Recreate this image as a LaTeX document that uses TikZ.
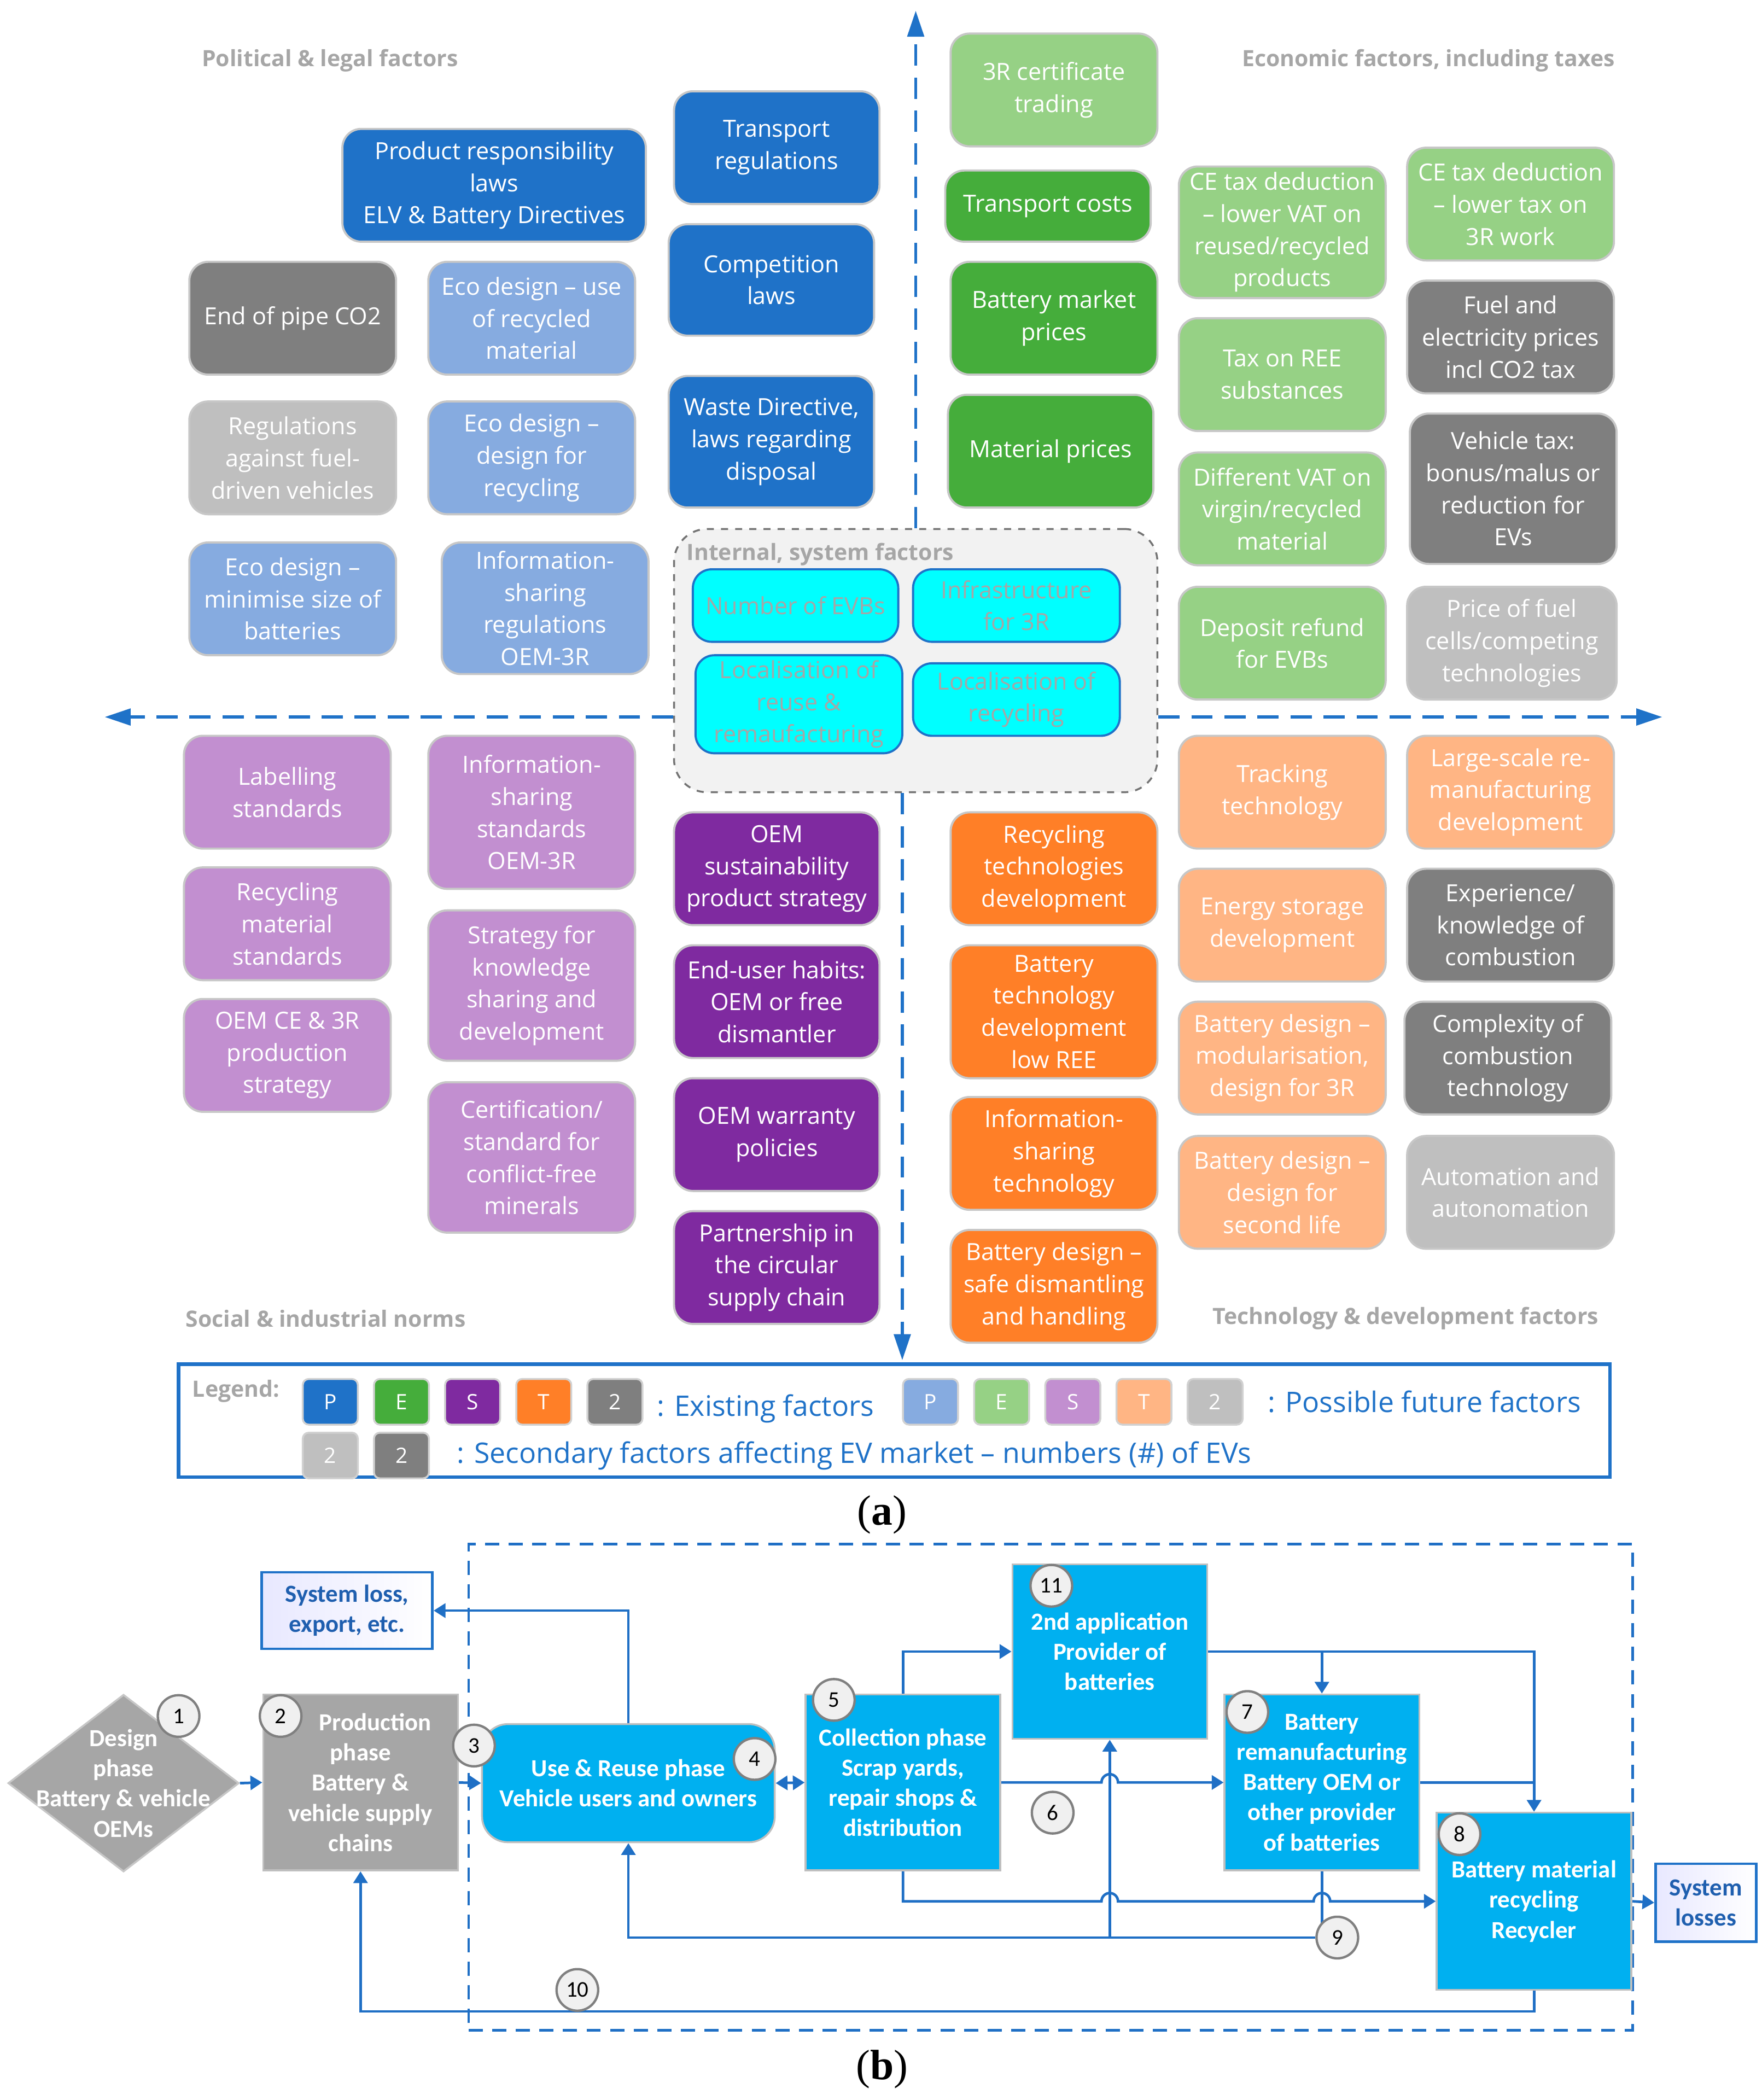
\documentclass[tikz,border=0pt]{standalone}
\usepackage{fontspec}
\setmainfont{Open Sans}
\newfontfamily\carl{Carlito}
\newfontfamily\serf{Liberation Serif}
\usetikzlibrary{shapes.geometric,arrows.meta,calc}
\pgfdeclarelayer{bg}\pgfsetlayers{bg,main}
\definecolor{cP}{HTML}{1F72C8}
\definecolor{cE}{HTML}{45AD3B}
\definecolor{cS}{HTML}{7F2AA0}
\definecolor{cT}{HTML}{FF7F27}
\definecolor{cG}{HTML}{7F7F7F}
\definecolor{cPf}{HTML}{86ABE0}
\definecolor{cEf}{HTML}{96D185}
\definecolor{cSf}{HTML}{C28FD0}
\definecolor{cTf}{HTML}{FFB584}
\definecolor{cGf}{HTML}{BFBFBF}
\definecolor{cCy}{HTML}{00FFFF}
\definecolor{cLb}{HTML}{00B0F0}
\definecolor{cDg}{HTML}{A6A6A6}
\definecolor{cB}{HTML}{1F6FC5}
\definecolor{gtext}{HTML}{A6A6A6}
\definecolor{cBt}{HTML}{1F5FAF}
\newcommand\bfnt{\fontsize{10}{13.6}\selectfont}
\newcommand\lfnt{\bfseries\fontsize{9.5}{11}\selectfont}
\newcommand\cfnt{\carl\bfseries\fontsize{10.4}{12.8}\selectfont}
% #1 style, #2 name, #3 x1, #4 y1, #5 x2, #6 y2, #7 text
\newcommand\qbox[7]{\node[#1, minimum width={(#5-#3)*0.02cm}, minimum height={(#6-#4)*0.02cm}] (#2) at ({(#3+#5)/2},{(#4+#6)/2}) {#7};}
\tikzset{
  bx/.style={rectangle, rounded corners=8pt, draw=black!22, line width=0.9pt, inner sep=1pt, align=center, text=white, font=\bfnt},
  bP/.style={bx, fill=cP}, bE/.style={bx, fill=cE}, bS/.style={bx, fill=cS}, bT/.style={bx, fill=cT}, bG/.style={bx, fill=cG},
  bPf/.style={bx, fill=cPf}, bEf/.style={bx, fill=cEf}, bSf/.style={bx, fill=cSf}, bTf/.style={bx, fill=cTf}, bGf/.style={bx, fill=cGf},
  bI/.style={bx, draw=cP, fill=cCy, text=gtext},
  qlab/.style={text=gtext, font=\lfnt, inner sep=0pt},
  axis/.style={draw=cP, line width=1.3pt, dash pattern=on 9pt off 5pt, -{Triangle[length=11pt,width=7pt]}},
  lg/.style={rectangle, rounded corners=2.5pt, draw=black!18, line width=0.8pt, minimum width=0.82cm, minimum height=0.68cm, inner sep=0pt, text=white, font=\fontsize{9}{10}\selectfont},
  ltx/.style={text=cP, font=\fontsize{12}{14}\selectfont, anchor=west, inner sep=0pt},
  fb/.style={rectangle, draw=black!25, line width=0.8pt, inner sep=1pt, align=center, text=white, font=\cfnt},
  fbG/.style={fb, fill=cDg}, fbB/.style={fb, fill=cLb},
  num/.style={circle, fill=black!6, draw=black!50, line width=1pt, minimum size=0.62cm, inner sep=0pt, font=\carl\fontsize{9.5}{10}\selectfont},
  sysb/.style={rectangle, draw=cP, line width=1.1pt, left color=blue!9, right color=white, align=center, text=cBt, font=\cfnt, inner sep=1pt},
  arr/.style={draw=cB, line width=1.1pt, -{Triangle[length=5pt,width=6pt]}},
  ln/.style={draw=cB, line width=1.1pt},
}
\begin{document}
\begin{tikzpicture}[x=0.02cm,y=-0.02cm]
\useasboundingbox (0,0) rectangle (1312,1564);
% ---------- (a) ----------
\node[rectangle, rounded corners=14pt, draw=black!55, dashed, line width=0.8pt, fill=black!5, minimum width={360*0.02cm}, minimum height={196*0.02cm}] (internal) at (682,492) {};
\node[qlab, anchor=west] (intl) at (511,413) {Internal, system factors};
\qbox{bI}{nevb}{516}{424}{669}{478}{Number of EVBs}
\qbox{bI}{infr}{680}{424}{834}{478}{Infrastructure\\for 3R}
\qbox{bI}{locr}{518}{488}{672}{561}{Localisation of\\reuse \&\\remaufacturing}
\qbox{bI}{locy}{680}{494}{834}{548}{Localisation of\\recycling}
% axes
\coordinate (axT) at (682,8);
\coordinate (axB) at (672,1013);
\coordinate (axL) at (78,534);
\coordinate (axR) at (1238,534);
\draw[axis] (internal.north) -- (axT);
\draw[axis] (internal.south -| axB) -- (axB);
\draw[axis] (internal.west |- axL) -- (axL);
\draw[axis] (internal.east |- axR) -- (axR);
% quadrant labels
\node[qlab, anchor=west] (qpol) at (150,45) {Political \& legal factors};
\node[qlab, anchor=east] (qeco) at (1203,45) {Economic factors, including taxes};
\node[qlab, anchor=west] (qsoc) at (138,982) {Social \& industrial norms};
\node[qlab, anchor=east] (qtec) at (1191,982) {Technology \& development factors};
% political
\qbox{bP}{prl}{255}{96}{481}{180}{Product responsibility\\laws\\ELV \& Battery Directives}
\qbox{bP}{trr}{502}{68}{655}{152}{Transport\\regulations}
\qbox{bP}{cpl}{498}{167}{651}{250}{Competition\\laws}
\qbox{bP}{wst}{498}{280}{651}{378}{Waste Directive,\\laws regarding\\disposal}
\qbox{bG}{eop}{141}{195}{295}{279}{End of pipe CO2}
\qbox{bPf}{ec1}{319}{195}{473}{279}{Eco design – use\\of recycled\\material}
\qbox{bGf}{rgf}{141}{299}{295}{383}{Regulations\\against fuel-\\driven vehicles}
\qbox{bPf}{ec2}{319}{299}{473}{383}{Eco design –\\design for\\recycling}
\qbox{bPf}{ec3}{141}{404}{295}{488}{Eco design –\\minimise size of\\batteries}
\qbox{bPf}{isr}{329}{404}{483}{502}{Information-\\sharing\\regulations\\OEM-3R}
% economic
\qbox{bEf}{c3r}{708}{25}{862}{109}{3R certificate\\trading}
\qbox{bE}{tco}{704}{127}{857}{180}{Transport costs}
\qbox{bE}{bmp}{708}{195}{862}{279}{Battery market\\prices}
\qbox{bE}{mtp}{706}{294}{859}{378}{Material prices}
\qbox{bEf}{ce1}{878}{124}{1032}{222}{CE tax deduction\\– lower VAT on\\reused/recycled\\products}
\qbox{bEf}{ce2}{1048}{110}{1202}{194}{CE tax deduction\\– lower tax on\\3R work}
\qbox{bEf}{ree}{878}{237}{1032}{321}{Tax on REE\\substances}
\qbox{bG}{fep}{1048}{209}{1202}{293}{Fuel and\\electricity prices\\incl CO2 tax}
\qbox{bEf}{vat}{878}{337}{1032}{421}{Different VAT on\\virgin/recycled\\material}
\qbox{bG}{vtx}{1050}{308}{1204}{420}{Vehicle tax:\\bonus/malus or\\reduction for\\EVs}
\qbox{bEf}{dep}{878}{437}{1032}{521}{Deposit refund\\for EVBs}
\qbox{bGf}{pfc}{1048}{437}{1204}{521}{Price of fuel\\cells/competing\\technologies}
% social
\qbox{bSf}{lab}{137}{548}{291}{632}{Labelling\\standards}
\qbox{bSf}{iss}{319}{548}{473}{662}{Information-\\sharing\\standards\\OEM-3R}
\qbox{bSf}{rms}{137}{646}{291}{730}{Recycling\\material\\standards}
\qbox{bSf}{sks}{319}{678}{473}{790}{Strategy for\\knowledge\\sharing and\\development}
\qbox{bSf}{oce}{137}{744}{291}{828}{OEM CE \& 3R\\production\\strategy}
\qbox{bSf}{ccf}{319}{806}{473}{918}{Certification/\\standard for\\conflict-free\\minerals}
\qbox{bS}{osp}{502}{605}{655}{689}{OEM\\sustainability\\product strategy}
\qbox{bS}{euh}{502}{704}{655}{788}{End-user habits:\\OEM or free\\dismantler}
\qbox{bS}{owp}{502}{803}{655}{887}{OEM warranty\\policies}
\qbox{bS}{pcs}{502}{902}{655}{986}{Partnership in\\the circular\\supply chain}
% technology
\qbox{bT}{rtd}{708}{605}{862}{689}{Recycling\\technologies\\development}
\qbox{bT}{btd}{708}{704}{862}{803}{Battery\\technology\\development\\low REE}
\qbox{bT}{ist}{708}{817}{862}{901}{Information-\\sharing\\technology}
\qbox{bT}{bds}{708}{916}{862}{1000}{Battery design –\\safe dismantling\\and handling}
\qbox{bTf}{trt}{878}{548}{1032}{632}{Tracking\\technology}
\qbox{bTf}{lsr}{1048}{548}{1202}{632}{Large-scale re-\\manufacturing\\development}
\qbox{bTf}{esd}{878}{647}{1032}{731}{Energy storage\\development}
\qbox{bG}{ekc}{1048}{647}{1202}{731}{Experience/\\knowledge of\\combustion}
\qbox{bTf}{bdm}{878}{746}{1032}{830}{Battery design –\\modularisation,\\design for 3R}
\qbox{bG}{cct}{1046}{746}{1200}{830}{Complexity of\\combustion\\technology}
\qbox{bTf}{bdl}{878}{846}{1032}{930}{Battery design –\\design for\\second life}
\qbox{bGf}{aut}{1048}{846}{1202}{930}{Automation and\\autonomation}
% legend
\node[rectangle, draw=cP, line width=1.5pt, minimum width={1066*0.02cm}, minimum height={84*0.02cm}] (leg) at (666,1058) {};
\node[qlab, anchor=west] (legt) at (143,1036) {Legend:};
\node[lg, fill=cP] (l1) at (246,1044) {P};
\node[lg, fill=cE] (l2) at (299,1044) {E};
\node[lg, fill=cS] (l3) at (352,1044) {S};
\node[lg, fill=cT] (l4) at (405,1044) {T};
\node[lg, fill=cG] (l5) at (458,1044) {2};
\node[ltx] (lt1) at (489,1049) {: Existing factors};
\node[lg, fill=cPf] (f1) at (693,1044) {P};
\node[lg, fill=cEf] (f2) at (746,1044) {E};
\node[lg, fill=cSf] (f3) at (799,1044) {S};
\node[lg, fill=cTf] (f4) at (852,1044) {T};
\node[lg, fill=cGf] (f5) at (905,1044) {2};
\node[ltx] (lt2) at (944,1044) {: Possible future factors};
\node[lg, fill=cGf] (s1) at (246,1084) {2};
\node[lg, fill=cG] (s2) at (299,1084) {2};
\node[ltx] (lt3) at (340,1084) {: Secondary factors affecting EV market – numbers (\#) of EVs};
\node[font=\serf\fontsize{18}{20}\selectfont] (capa) at (657,1128) {(\textbf{a})};
% ---------- (b) ----------
\node[rectangle, draw=cB, line width=1.1pt, dash pattern=on 6pt off 4pt, minimum width={867*0.02cm}, minimum height={362*0.02cm}] (zone) at (782.5,1331) {};
\node[diamond, fill=cDg, draw=black!22, line width=0.8pt, minimum width={172*0.02cm}, minimum height={132*0.02cm}, inner sep=0pt] (dm) at (92,1328) {};
\node[align=center, text=white, font=\cfnt] (dmt) at (92,1328) {Design\\phase\\Battery \& vehicle\\OEMs};
\qbox{fbG}{prod}{196}{1262}{341}{1393}{\hspace*{1.2em}Production\\phase\\Battery \&\\vehicle supply\\chains}
\qbox{fbB, rounded corners=11pt}{use}{359}{1284}{577}{1372}{Use \& Reuse phase\\Vehicle users and owners}
\qbox{fbB}{coll}{600}{1262}{745}{1393}{Collection phase\\Scrap yards,\\repair shops \&\\distribution}
\qbox{fbB}{app}{754}{1165}{899}{1295}{2nd application\\Provider of\\batteries}
\qbox{fbB}{reman}{912}{1262}{1057}{1393}{Battery\\remanufacturing\\Battery OEM or\\other provider\\of batteries}
\qbox{fbB}{recy}{1070}{1350}{1215}{1482}{Battery material\\recycling\\Recycler}
\qbox{sysb}{slo}{195}{1171}{322}{1228}{System loss,\\export, etc.}
\qbox{sysb}{sls}{1233}{1388}{1308}{1446}{System\\losses}
% numbers
\node[num] (n1) at (133,1278) {1};
\node[num] (n2) at (209,1278) {2};
\node[num] (n3) at (353,1300) {3};
\node[num] (n4) at (562,1310) {4};
\node[num] (n5) at (621,1266) {5};
\node[num] (n6) at (784,1350) {6};
\node[num] (n7) at (929,1275) {7};
\node[num] (n8) at (1087,1366) {8};
\node[num] (n9) at (996,1443) {9};
\node[num] (n10) at (430,1482) {10};
\node[num] (n11) at (783,1181) {11};
\coordinate (lb) at (0,1498);
\coordinate (h1) at (app.south |- coll.east);
\coordinate (h2) at (app.south |- recy.west);
\coordinate (h3) at (reman.south |- recy.west);
\begin{pgfonlayer}{bg}
\draw[arr] (dm.east) -- (prod.west);
\draw[arr] (prod.west -| prod.east) -- (use.west);
\draw[draw=cB, line width=1.1pt, {Triangle[length=5pt,width=6pt]}-{Triangle[length=5pt,width=6pt]}] (use.east) -- (coll.west);
\draw[arr] (use.north) |- (slo.east);
\draw[arr] (coll.north) |- (app.west);
\draw[arr] (app.east) -| (recy.north);
\draw[arr] (app.east -| reman.north) -- (reman.north);
\draw[arr] (coll.east) -- ([xshift=-3.5pt]h1) arc[start angle=180, end angle=0, radius=3.5pt] -- (reman.west);
\draw[ln] (reman.east) -- (reman.east -| recy.north);
\draw[arr] (coll.south) |- ([xshift=-3.5pt]h2) arc[start angle=180, end angle=0, radius=3.5pt] -- ([xshift=-3.5pt]h3) arc[start angle=180, end angle=0, radius=3.5pt] -- (recy.west);
\draw[ln] (reman.south) -- (reman.south |- n9);
\draw[arr] (n9.west) -| (use.south);
\draw[arr] (app.south |- n9) -- (app.south);
\draw[arr] (recy.south) |- (lb -| prod.south) -- (prod.south);
\draw[arr] (recy.east) -- (sls.west);
\end{pgfonlayer}
\node[font=\serf\fontsize{18}{20}\selectfont] (capb) at (657,1541) {(\textbf{b})};
\end{tikzpicture}
\end{document}
